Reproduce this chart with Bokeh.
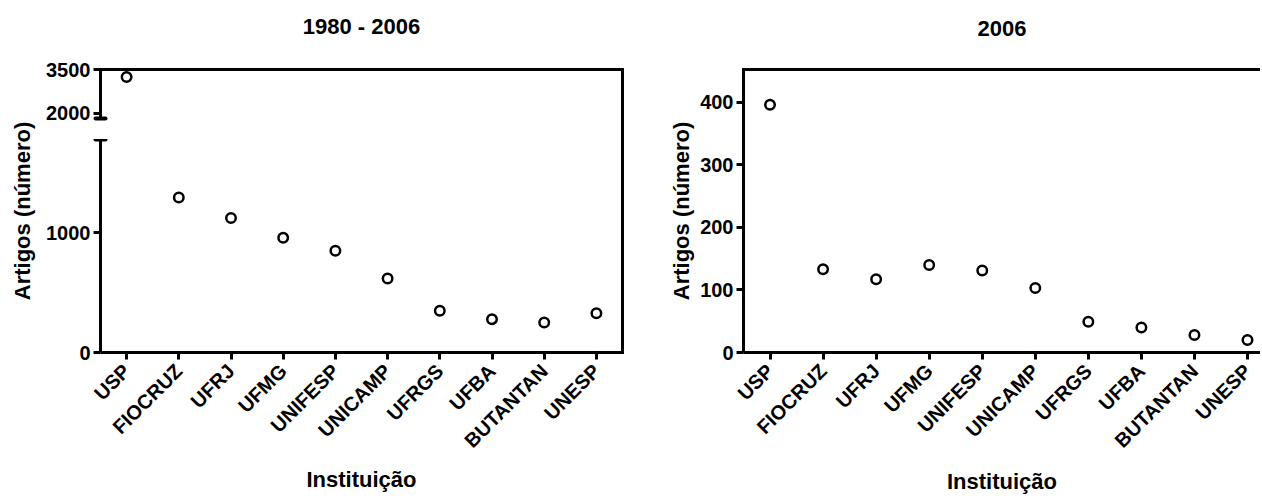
import math
from bokeh.plotting import figure
from bokeh.layouts import row, column
from bokeh.models import (Range1d, LinearAxis, FixedTicker, ColumnDataSource,
                          CDSView, BooleanFilter)
from bokeh.embed import file_html
from bokeh.resources import INLINE

# ---------------- data ----------------
institutions = ["USP", "FIOCRUZ", "UFRJ", "UFMG", "UNIFESP",
                "UNICAMP", "UFRGS", "UFBA", "BUTANTAN", "UNESP"]
artigos_1980_2006 = [3240, 1292, 1120, 956, 847, 617, 347, 278, 250, 328]
artigos_2006 = [396, 133, 117, 140, 131, 103, 49, 40, 28, 20]

ticks_1980_lower = [0, 1000]
ticks_1980_upper = [2000, 3500]
ticks_2006 = [0, 100, 200, 300, 400]
break_lower_top = 1772      # end of the lower segment of the broken axis
break_upper_bottom = 1808   # start of the upper segment of the broken axis

title_left = "1980 - 2006"
title_right = "2006"
x_label = "Instituição"
y_label = "Artigos (número)"

# ---------------- style ----------------
FONT = "Liberation Sans"
XTICK_FS = "20px"
YTICK_FS = "20px"
LABEL_FS = "22px"
TITLE_FS = "22px"

x_idx = list(range(len(institutions)))
label_map = {i: n for i, n in enumerate(institutions)}

src_total = ColumnDataSource(dict(x=x_idx, y=artigos_1980_2006, name=institutions))
src_2006 = ColumnDataSource(dict(x=x_idx, y=artigos_2006, name=institutions))
upper_view = CDSView(filter=BooleanFilter([v >= break_upper_bottom for v in artigos_1980_2006]))


def style_axis(ax, fs):
    ax.axis_line_width = 3
    ax.axis_line_color = "black"
    ax.major_tick_line_width = 3
    ax.major_tick_line_color = "black"
    ax.major_tick_out = 7
    ax.major_tick_in = 0
    ax.minor_tick_out = 0
    ax.minor_tick_in = 0
    ax.major_label_text_font = FONT
    ax.major_label_text_font_style = "bold"
    ax.major_label_text_font_size = fs
    ax.major_label_text_color = "black"
    ax.major_label_standoff = 3
    ax.axis_label_text_font = FONT
    ax.axis_label_text_font_style = "bold"
    ax.axis_label_text_font_size = LABEL_FS
    ax.axis_label_text_color = "black"


def border_axis():
    return LinearAxis(ticker=FixedTicker(ticks=[]), major_label_text_font_size="0px",
                      major_tick_out=0, major_tick_in=0, minor_tick_out=0, minor_tick_in=0,
                      major_label_standoff=0, axis_label_standoff=0,
                      axis_line_width=3, axis_line_color="black", axis_line_cap="square")


def title_axis(text, gap):
    # top frame line that carries the chart title above it
    ax = border_axis()
    ax.axis_label = text
    ax.axis_label_standoff = gap
    ax.axis_label_text_font = FONT
    ax.axis_label_text_font_style = "bold"
    ax.axis_label_text_font_size = TITLE_FS
    ax.axis_label_text_color = "black"
    return ax


def base_fig(width, height, x_range, y_range, **kw):
    p = figure(width=width, height=height, x_range=x_range, y_range=y_range,
               output_backend="svg", toolbar_location=None, **kw)
    p.outline_line_color = None
    p.grid.visible = False
    p.background_fill_color = "white"
    p.border_fill_color = "white"
    return p


def style_x_cat_axis(ax):
    style_axis(ax, XTICK_FS)
    ax.ticker = FixedTicker(ticks=x_idx)
    ax.major_label_overrides = label_map
    ax.major_label_orientation = math.pi / 4
    ax.major_label_standoff = 8
    ax.axis_label = x_label


def add_points(p, src, **kw):
    p.scatter("x", "y", source=src, marker="circle", size=9.5, line_width=2.5,
              line_color="black", fill_color="white", **kw)


def style_break_cap(ax):
    ax.minor_tick_in = 5
    ax.minor_tick_out = 5
    ax.minor_tick_line_width = 4
    ax.minor_tick_line_color = "black"
    ax.minor_tick_line_cap = "round"


# ---------------- y label of the left chart (spans both axis segments) ----------------
ylab = base_fig(41, 496, Range1d(0, 1), Range1d(0, 1), x_axis_location=None)
ylab.min_border_left = 40
ylab.min_border_right = 0
ylab.min_border_top = 69
ylab.min_border_bottom = 144
la = ylab.yaxis[0]
la.ticker = FixedTicker(ticks=[])
la.axis_line_color = None
la.major_label_text_font_size = "0px"
la.major_tick_out = 0
la.major_tick_in = 0
la.minor_tick_out = 0
la.minor_tick_in = 0
la.major_label_standoff = 0
la.axis_label = y_label
la.axis_label_standoff = 6
la.axis_label_text_font = FONT
la.axis_label_text_font_style = "bold"
la.axis_label_text_font_size = LABEL_FS
la.axis_label_text_color = "black"

# ---------------- left chart (broken y axis) ----------------
xr_left = Range1d(-0.5, 9.5)

up = base_fig(607, 139, xr_left, Range1d(1097, 3500), x_axis_location=None)
up.min_border_top = 69
up.min_border_bottom = 0
up.min_border_left = 59
up.min_border_right = 26
ay = up.yaxis[0]
style_axis(ay, YTICK_FS)
ay.ticker = FixedTicker(ticks=ticks_1980_upper, minor_ticks=[break_upper_bottom])
ay.bounds = (break_upper_bottom, 3500)
style_break_cap(ay)
up.add_layout(title_axis(title_left, 31), "above")
up.add_layout(border_axis(), "right")
add_points(up, src_total, view=upper_view)

low = base_fig(607, 357, xr_left, Range1d(0, 1775), x_axis_location="below")
low.min_border_top = 0
low.min_border_bottom = 144
low.min_border_left = 59
low.min_border_right = 26
ly = low.yaxis[0]
style_axis(ly, YTICK_FS)
ly.ticker = FixedTicker(ticks=ticks_1980_lower, minor_ticks=[break_lower_top])
ly.bounds = (0, break_lower_top)
style_break_cap(ly)
style_x_cat_axis(low.xaxis[0])
low.xaxis[0].axis_label_standoff = 4
low.add_layout(border_axis(), "right")
add_points(low, src_total)

# ---------------- right chart ----------------
rp = base_fig(612, 496, Range1d(-0.5, 9.245), Range1d(0, 452.4))
rp.min_border_top = 67
rp.min_border_bottom = 144
rp.min_border_left = 95
rp.min_border_right = 0
ry = rp.yaxis[0]
style_axis(ry, YTICK_FS)
ry.ticker = FixedTicker(ticks=ticks_2006)
ry.axis_label = y_label
ry.axis_label_standoff = 3
style_x_cat_axis(rp.xaxis[0])
rp.xaxis[0].axis_label_standoff = 6
rp.add_layout(title_axis(title_right, 34), "above")
add_points(rp, src_2006)

layout = row(ylab, column(up, low), rp)

with open("out.html", "w") as f:
    f.write(file_html(layout, INLINE))
